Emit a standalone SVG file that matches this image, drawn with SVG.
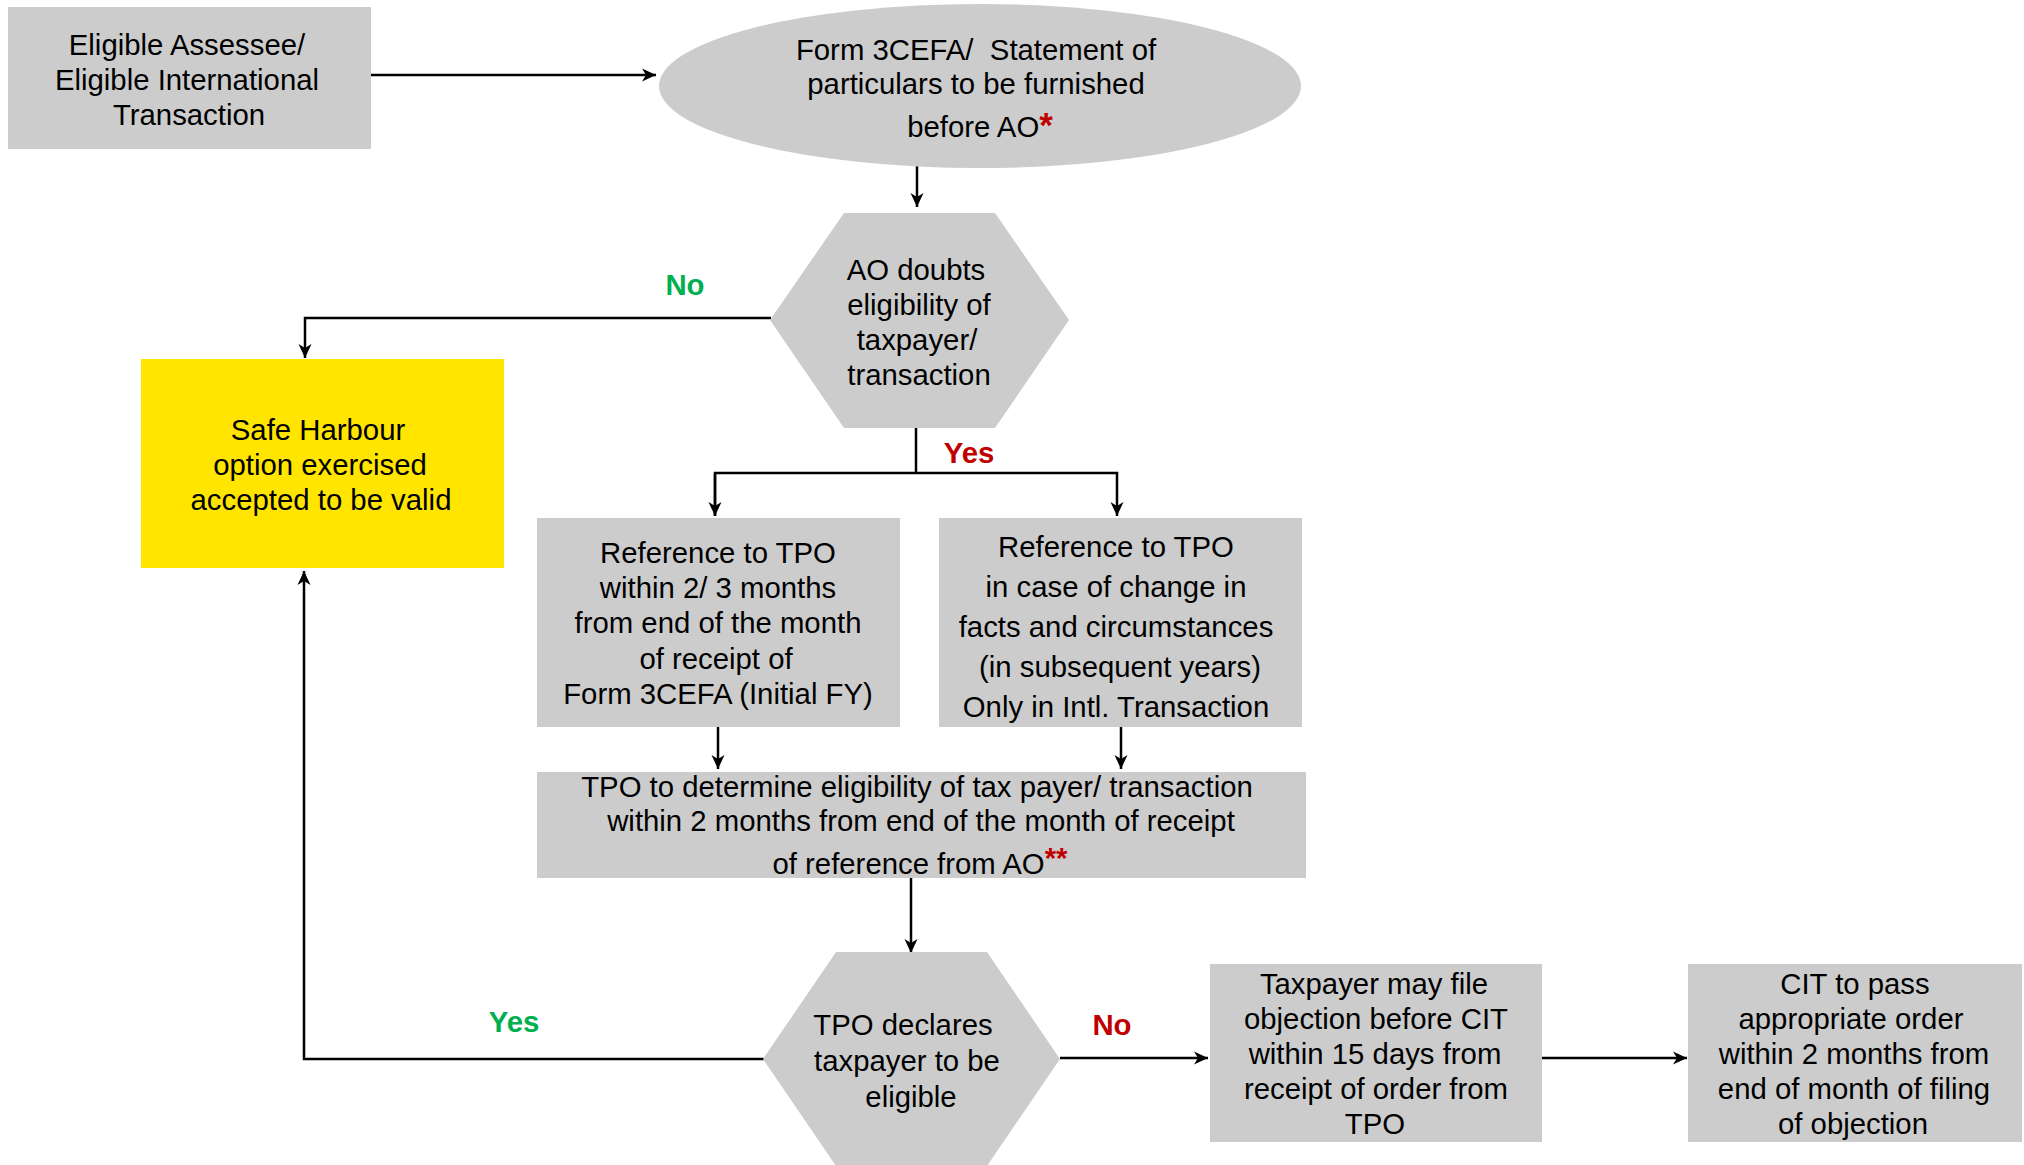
<svg xmlns="http://www.w3.org/2000/svg" width="2024" height="1165" viewBox="0 0 2024 1165">
<style>
.box{fill:#cccccc}
.yel{fill:#ffe500}
.t{font-family:"Liberation Sans",Arial,sans-serif;font-size:29.33px;fill:#000;text-anchor:middle}
.lbl{font-family:"Liberation Sans",Arial,sans-serif;font-size:29.33px;font-weight:bold;text-anchor:middle}
.g{fill:#00b050}
.r{fill:#c00000}
.ast{font-weight:bold;fill:#c00000}
.ln{fill:none;stroke:#000;stroke-width:2.5}
</style>
<defs>
<marker id="ah" markerUnits="userSpaceOnUse" markerWidth="16" markerHeight="14" refX="14" refY="7" orient="auto">
<path d="M0,0.5 L14,7 L0,13.5 L4,7 z" fill="#000"/>
</marker>
</defs>
<rect width="2024" height="1165" fill="#fff"/>

<g id="connectors">
<line class="ln" x1="371" y1="75" x2="656" y2="75" marker-end="url(#ah)"/>
<line class="ln" x1="917" y1="164" x2="917" y2="207" marker-end="url(#ah)"/>
<polyline class="ln" points="771,318 305,318 305,358" marker-end="url(#ah)"/>
<line class="ln" x1="916" y1="428" x2="916" y2="474"/>
<polyline class="ln" points="715,516 715,473 1117,473 1117,516" marker-end="url(#ah)"/>
<line class="ln" x1="715" y1="474" x2="715" y2="516" marker-end="url(#ah)"/>
<line class="ln" x1="718" y1="727" x2="718" y2="769" marker-end="url(#ah)"/>
<line class="ln" x1="1121" y1="727" x2="1121" y2="769" marker-end="url(#ah)"/>
<line class="ln" x1="911" y1="878" x2="911" y2="953" marker-end="url(#ah)"/>
<polyline class="ln" points="764,1059 304,1059 304,571" marker-end="url(#ah)"/>
<line class="ln" x1="1060" y1="1058" x2="1208" y2="1058" marker-end="url(#ah)"/>
<line class="ln" x1="1542" y1="1058" x2="1687" y2="1058" marker-end="url(#ah)"/>
<text class="lbl g" x="685" y="295">No</text>
<text class="lbl r" x="969" y="463">Yes</text>
<text class="lbl g" x="514" y="1032">Yes</text>
<text class="lbl r" x="1112" y="1035">No</text>
</g>

<g id="n-eligible">
<rect class="box" x="8" y="7" width="363" height="142"/>
<text class="t"><tspan x="187" y="55">Eligible Assessee/</tspan><tspan x="187" y="90">Eligible International</tspan><tspan x="189" y="125">Transaction</tspan></text>
</g>

<g id="n-form">
<ellipse class="box" cx="980" cy="86" rx="321" ry="82"/>
<text class="t" xml:space="preserve"><tspan x="976" y="60">Form 3CEFA/  Statement of</tspan><tspan x="976" y="94">particulars to be furnished</tspan></text>
<text class="t" x="980" y="137">before AO<tspan class="ast" font-size="35">*</tspan></text>
</g>

<g id="n-aodoubts">
<polygon class="box" points="844,213 995,213 1069,320 995,428 844,428 770,320"/>
<text class="t"><tspan x="916" y="280">AO doubts</tspan><tspan x="919" y="315">eligibility of</tspan><tspan x="917" y="350">taxpayer/</tspan><tspan x="919" y="385">transaction</tspan></text>
</g>

<g id="n-safeharbour">
<rect class="yel" x="141" y="359" width="363" height="209"/>
<text class="t"><tspan x="318" y="440">Safe Harbour</tspan><tspan x="320" y="475">option exercised</tspan><tspan x="321" y="510">accepted to be valid</tspan></text>
</g>

<g id="n-ref1">
<rect class="box" x="537" y="518" width="363" height="209"/>
<text class="t"><tspan x="718" y="563">Reference to TPO</tspan><tspan x="718" y="598">within 2/ 3 months</tspan><tspan x="718" y="633">from end of the month</tspan><tspan x="716" y="669">of receipt of</tspan><tspan x="718" y="704">Form 3CEFA (Initial FY)</tspan></text>
</g>

<g id="n-ref2">
<rect class="box" x="939" y="518" width="363" height="209"/>
<text class="t"><tspan x="1116" y="557">Reference to TPO</tspan><tspan x="1116" y="597">in case of change in</tspan><tspan x="1116" y="637">facts and circumstances</tspan><tspan x="1120" y="677">(in subsequent years)</tspan><tspan x="1116" y="717">Only in Intl. Transaction</tspan></text>
</g>

<g id="n-tpodetermine">
<rect class="box" x="537" y="772" width="769" height="106"/>
<text class="t"><tspan x="917" y="797">TPO to determine eligibility of tax payer/ transaction</tspan><tspan x="921" y="831">within 2 months from end of the month of receipt</tspan></text>
<text class="t" x="920" y="874">of reference from AO<tspan class="ast" dy="-6">**</tspan></text>
</g>

<g id="n-tpodeclares">
<polygon class="box" points="836,952 987,952 1060,1059 987,1166 836,1166 763,1059"/>
<text class="t"><tspan x="903" y="1035">TPO declares</tspan><tspan x="907" y="1071">taxpayer to be</tspan><tspan x="911" y="1107">eligible</tspan></text>
</g>

<g id="n-objection">
<rect class="box" x="1210" y="964" width="332" height="178"/>
<text class="t"><tspan x="1374" y="994">Taxpayer may file</tspan><tspan x="1376" y="1029">objection before CIT</tspan><tspan x="1375" y="1064">within 15 days from</tspan><tspan x="1376" y="1099">receipt of order from</tspan><tspan x="1375" y="1134">TPO</tspan></text>
</g>

<g id="n-cit">
<rect class="box" x="1688" y="964" width="334" height="178"/>
<text class="t"><tspan x="1855" y="994">CIT to pass</tspan><tspan x="1851" y="1029">appropriate order</tspan><tspan x="1854" y="1064">within 2 months from</tspan><tspan x="1854" y="1099">end of month of filing</tspan><tspan x="1853" y="1134">of objection</tspan></text>
</g>
</svg>
